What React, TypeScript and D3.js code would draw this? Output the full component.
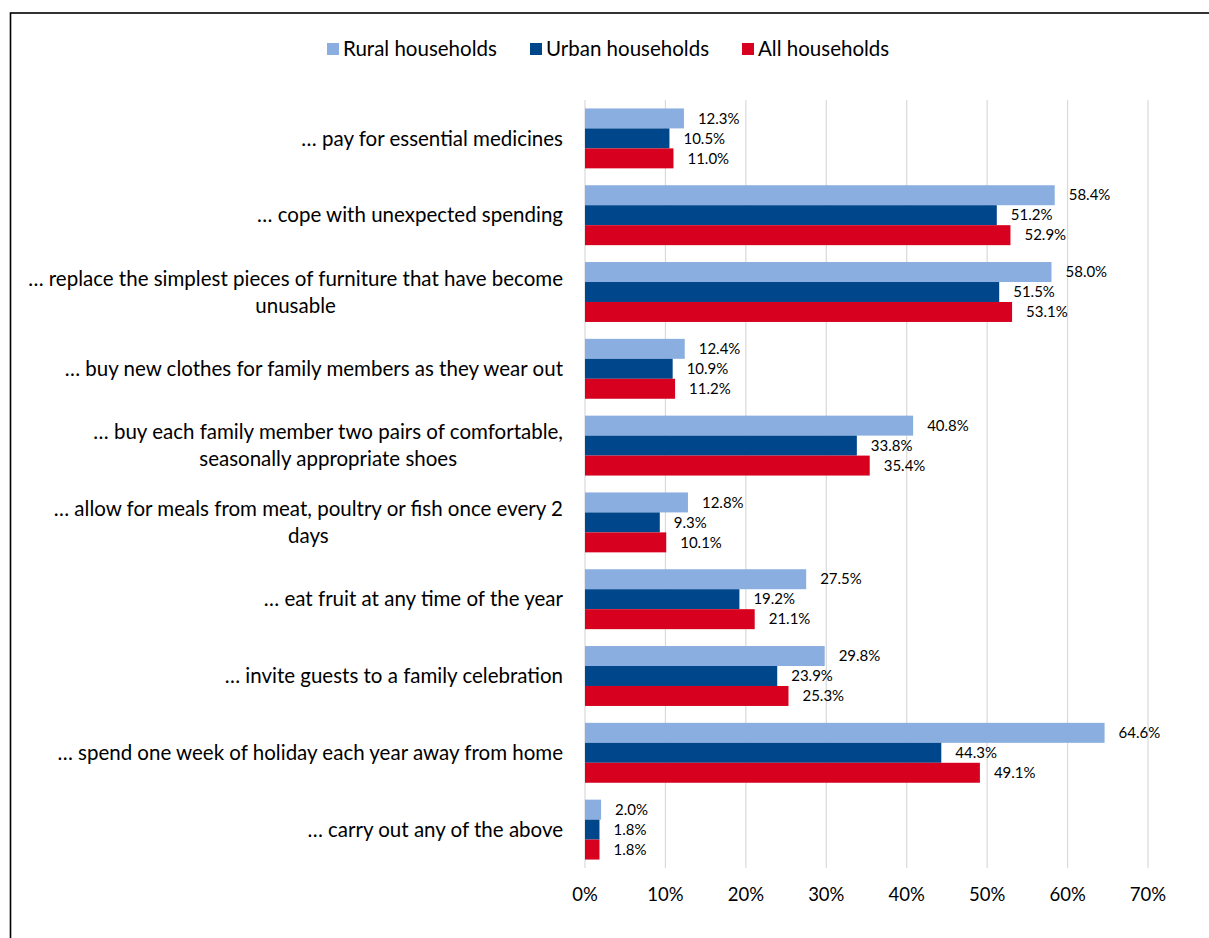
import React, { useEffect, useRef } from "react";
import * as d3 from "d3";

const categories: string[][] = [
  ["… pay for essential medicines"],
  ["… cope with unexpected spending"],
  ["… replace the simplest pieces of furniture that have become", "unusable"],
  ["… buy new clothes for family members as they wear out"],
  ["… buy each family member two pairs of comfortable,", "seasonally appropriate shoes"],
  ["… allow for meals from meat, poultry or fish once every 2", "days"],
  ["… eat fruit at any time of the year"],
  ["… invite guests to a family celebration"],
  ["… spend one week of holiday each year away from home"],
  ["… carry out any of the above"],
];
const rural = [12.3, 58.4, 58.0, 12.4, 40.8, 12.8, 27.5, 29.8, 64.6, 2.0];
const urban = [10.5, 51.2, 51.5, 10.9, 33.8, 9.3, 19.2, 23.9, 44.3, 1.8];
const allH = [11.0, 52.9, 53.1, 11.2, 35.4, 10.1, 21.1, 25.3, 49.1, 1.8];
const seriesNames = ["Rural households", "Urban households", "All households"];
const colors = ["#8aaee0", "#00468b", "#d7001f"];
const ticks = [0, 10, 20, 30, 40, 50, 60, 70];

const W = 1209, H = 938;
const FONT = "Lato, 'Open Sans', sans-serif";

export default function App() {
  const ref = useRef<SVGSVGElement>(null);
  useEffect(() => {
    const svg = d3.select(ref.current);
    svg.selectAll("*").remove();

    svg.append("rect").attr("x", 10.5).attr("y", 13).attr("width", W + 10).attr("height", H + 10)
      .attr("fill", "white").attr("stroke", "#000").attr("stroke-width", 1.6);

    const x = d3.scaleLinear().domain([0, 70]).range([585, 1148]);
    const y = d3.scaleBand<number>().domain(d3.range(categories.length)).range([100, 868]).paddingInner(0.22).paddingOuter(0.11);
    const sub = d3.scaleBand<number>().domain([0, 1, 2]).range([0, y.bandwidth()]);
    const series = [rural, urban, allH];

    // gridlines
    svg.append("g").selectAll("line").data(ticks).join("line")
      .attr("x1", d => x(d)).attr("x2", d => x(d)).attr("y1", 100).attr("y2", 868)
      .attr("stroke", "#d9d9d9").attr("stroke-width", 1.2);

    // tick labels
    svg.append("g").selectAll("text").data(ticks).join("text")
      .attr("x", d => x(d)).attr("y", 895).attr("dy", "0.35em").attr("text-anchor", "middle")
      .attr("font-family", FONT).attr("font-size", 18.5).attr("fill", "#000").text(d => `${d}%`);

    // bars
    series.forEach((vals, si) => {
      const g = svg.append("g");
      g.selectAll("rect").data(vals).join("rect")
        .attr("x", x(0)).attr("y", (d, i) => (y(i) as number) + (sub(si) as number))
        .attr("width", d => x(d) - x(0)).attr("height", sub.bandwidth())
        .attr("fill", colors[si]);
      g.selectAll("text").data(vals).join("text")
        .attr("x", d => x(d) + 14).attr("y", (d, i) => (y(i) as number) + (sub(si) as number) + sub.bandwidth() / 2)
        .attr("dy", "0.35em").attr("font-family", FONT).attr("font-size", 15).attr("fill", "#000")
        .text(d => `${d.toFixed(1)}%`);
    });

    // category labels
    const FS = 20.5;
    const lab = svg.append("g");
    categories.forEach((lines, i) => {
      const cy = (y(i) as number) + y.bandwidth() / 2;
      if (lines.length === 1) {
        lab.append("text").attr("x", 563).attr("y", cy).attr("dy", "0.35em").attr("text-anchor", "end")
          .attr("font-family", FONT).attr("font-size", FS).attr("fill", "#000").text(lines[0]);
      } else {
        const t1 = lab.append("text").attr("x", 563).attr("y", cy - 13.5).attr("dy", "0.35em").attr("text-anchor", "end")
          .attr("font-family", FONT).attr("font-size", FS).attr("fill", "#000").text(lines[0]);
        const w = (t1.node() as SVGTextElement).getComputedTextLength();
        lab.append("text").attr("x", 563 - w / 2).attr("y", cy + 13.5).attr("dy", "0.35em").attr("text-anchor", "middle")
          .attr("font-family", FONT).attr("font-size", FS).attr("fill", "#000").text(lines[1]);
      }
    });

    // legend
    const legX = [327, 530, 742];
    const lg = svg.append("g");
    seriesNames.forEach((n, i) => {
      lg.append("rect").attr("x", legX[i]).attr("y", 43).attr("width", 12).attr("height", 12).attr("fill", colors[i]);
      lg.append("text").attr("x", legX[i] + 16).attr("y", 49).attr("dy", "0.35em")
        .attr("font-family", FONT).attr("font-size", FS).attr("fill", "#000").text(n);
    });
  }, []);
  return (
    <svg ref={ref} width={W} height={H} style={{ position: "absolute", left: 0, top: 0, background: "white" }} />
  );
}
